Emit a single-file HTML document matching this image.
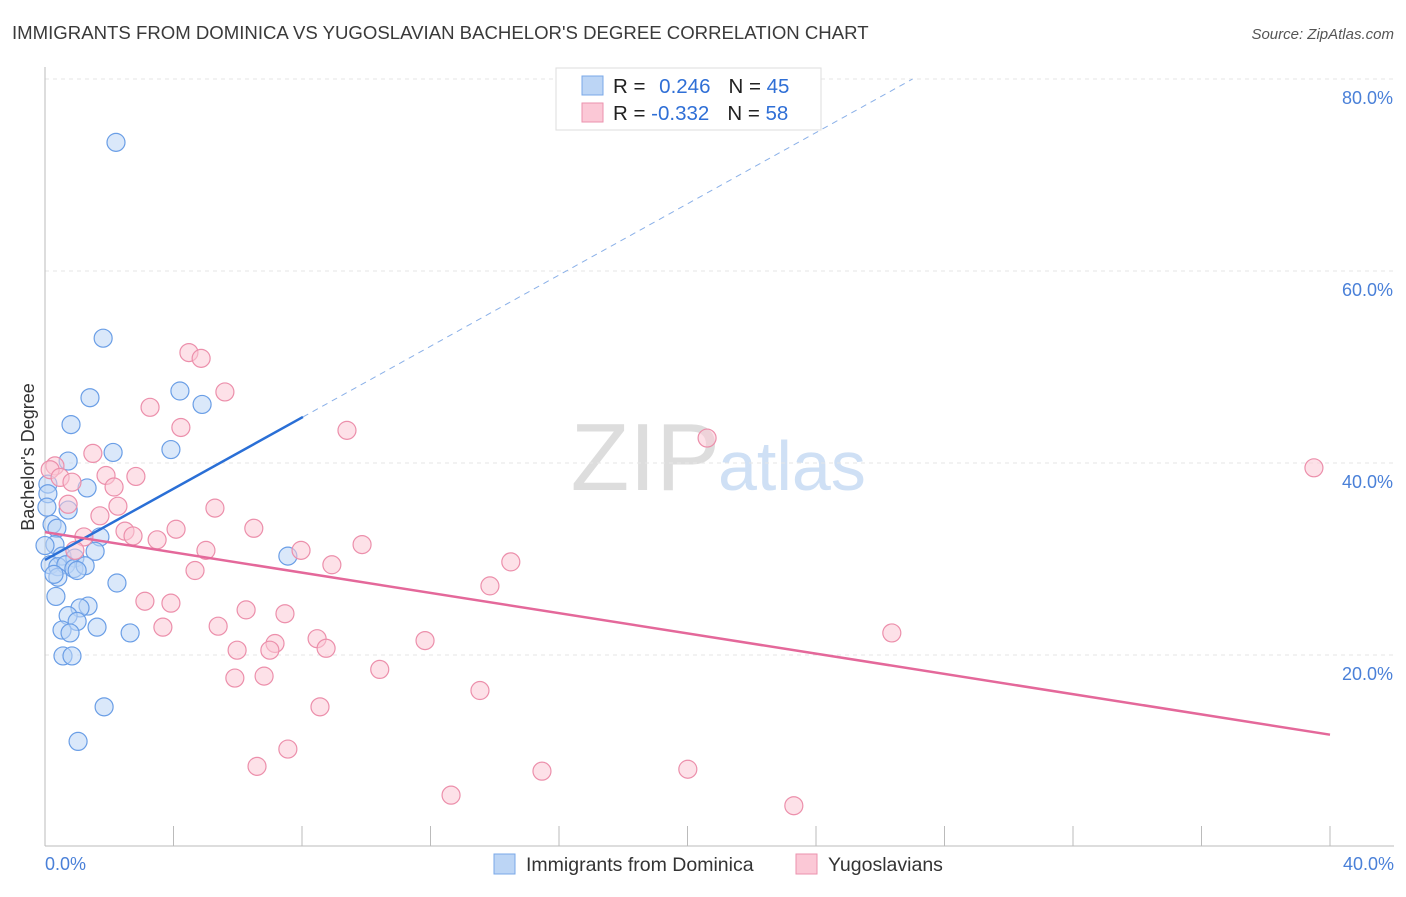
<!DOCTYPE html>
<html><head><meta charset="utf-8"><style>
body{margin:0;background:#fff;font-family:"Liberation Sans",sans-serif}
svg text{font-family:"Liberation Sans",sans-serif}
</style></head><body>
<svg id="c" width="1406" height="892">
<text x="12" y="39" font-size="18.6" fill="#3a3a3a">IMMIGRANTS FROM DOMINICA VS YUGOSLAVIAN BACHELOR'S DEGREE CORRELATION CHART</text>
<text x="1394" y="39" font-size="15" fill="#555" font-style="italic" text-anchor="end">Source: ZipAtlas.com</text>
<text x="720" y="490" font-size="96" fill="#ddd" font-family="Liberation Serif" text-anchor="end">ZIP</text>
<text x="718" y="490" font-size="70" fill="#cfe0f5">atlas</text>
<g id="grid"></g><g id="pts"></g><g id="lines"></g>
<text transform="translate(34,457) rotate(-90)" font-size="18" fill="#333" text-anchor="middle">Bachelor's Degree</text>
<g>
<rect x="556" y="68" width="265" height="62" fill="#fff" stroke="#ddd"/>
<rect x="582" y="76" width="21" height="19" fill="#bcd5f5" stroke="#7aa8e8"/>
<rect x="582" y="103" width="21" height="19" fill="#fbc8d6" stroke="#eb92ae"/>
<text x="613" y="93" font-size="20.5" fill="#222">R = <tspan fill="#2f6fd6" dx="8">0.246</tspan><tspan dx="18" fill="#222">N = </tspan><tspan fill="#2f6fd6">45</tspan></text>
<text x="613" y="120" font-size="20.5" fill="#222">R = <tspan fill="#2f6fd6">-0.332</tspan><tspan dx="18" fill="#222">N = </tspan><tspan fill="#2f6fd6">58</tspan></text>
</g>
<g>
<rect x="494" y="854" width="21" height="20" fill="#bcd5f5" stroke="#7aa8e8"/>
<text x="526" y="871" font-size="19.5" fill="#333">Immigrants from Dominica</text>
<rect x="796" y="854" width="21" height="20" fill="#fbc8d6" stroke="#eb92ae"/>
<text x="828" y="871" font-size="19.5" fill="#333">Yugoslavians</text>
</g>
</svg>
<script>
const yTicks=[20,40,60,80];
const xTickLabels=["0.0%","40.0%"];
const blueX=[2.21,1.81,4.20,1.40,4.89,0.81,2.12,3.92,0.72,1.31,0.09,0.09,0.06,0.72,0.22,0.37,1.71,0.31,1.56,0.53,0.93,0.16,0.40,0.65,0.90,1.25,1.00,0.40,7.56,2.24,0.34,1.34,1.09,0.72,1.00,0.53,0.78,1.62,2.65,0.56,0.84,1.84,1.03,0.0,0.28];
const blueY=[73.4,53.0,47.5,46.8,46.1,44.0,41.1,41.4,40.2,37.4,37.8,36.8,35.4,35.1,33.6,33.2,32.3,31.5,30.8,30.3,30.1,29.4,29.2,29.4,29.0,29.3,28.8,28.1,30.3,27.5,26.1,25.1,24.9,24.1,23.5,22.6,22.3,22.9,22.3,19.9,19.9,14.6,11.0,31.4,28.4];
const pinkX=[4.48,4.86,5.60,3.27,4.23,9.40,20.61,39.50,1.49,0.31,0.16,0.47,0.84,1.90,2.15,2.83,0.72,2.27,5.29,1.71,4.08,6.50,2.49,2.74,3.49,5.01,9.87,7.97,1.21,0.93,14.50,8.93,4.67,13.85,3.11,3.92,6.26,7.47,3.67,5.39,26.36,7.16,8.47,11.83,7.00,8.75,5.98,10.42,5.91,6.82,13.54,8.56,7.56,6.60,15.47,20.01,12.64,23.31];
const pinkY=[51.5,50.9,47.4,45.8,43.7,43.4,42.6,39.5,41.0,39.7,39.3,38.5,38.0,38.7,37.5,38.6,35.7,35.5,35.3,34.5,33.1,33.2,32.9,32.4,32.0,30.9,31.5,30.9,32.3,30.9,29.7,29.4,28.8,27.2,25.6,25.4,24.7,24.3,22.9,23.0,22.3,21.2,21.7,21.5,20.5,20.7,20.5,18.5,17.6,17.8,16.3,14.6,10.2,8.4,7.9,8.1,5.4,4.3];
const blueFit=[29.9,1.855]; const pinkFit=[32.8,-0.5275];
const X=v=>45+v/40*1285, Y=v=>847-v*9.6;
const ns="http://www.w3.org/2000/svg";
function mk(tag,attrs,parent){const e=document.createElementNS(ns,tag);for(const k in attrs)e.setAttribute(k,attrs[k]);parent.appendChild(e);return e;}
const g=document.getElementById('grid');
yTicks.forEach(t=>{
 const l=mk('line',{x1:45,x2:1394,y1:Y(t),y2:Y(t),stroke:'#e6e6e6','stroke-dasharray':'4,4'},g);
 
 
 const tx=mk('text',{x:1393,y:Y(t)+25,'font-size':18,fill:'#4a80d8','text-anchor':'end'},g);
 tx.textContent=t.toFixed(1)+'%';
 
 
});
const ax=mk('line',{x1:45,x2:45,y1:67,y2:846,stroke:'#bbb'},g);


const bx=mk('line',{x1:45,x2:1394,y1:846,y2:846,stroke:'#bbb'},g);


for(let i=1;i<=10;i++){const t=mk('line',{x1:X(i*4),x2:X(i*4),y1:826,y2:846,stroke:'#bbb'},g);
 
 }
[[0,'start',45],[40,'end',1394]].forEach((d,i)=>{const t=mk('text',{x:d[2],y:870,'font-size':18,fill:'#4a80d8','text-anchor':d[1]},g);t.textContent=xTickLabels[i];
 
 });
const p=document.getElementById('pts');
function dots(xs,ys,fill,stroke,name){xs.forEach((x,i)=>{const c=mk('circle',{cx:X(x),cy:Y(ys[i]),r:9,fill:fill,'fill-opacity':0.55,stroke:stroke,'stroke-width':1.2},p);
 
 });}
dots(blueX,blueY,'#bcd5f5','#6a9ee6','dominica-point');
dots(pinkX,pinkY,'#fbc8d6','#ec8fab','yugoslavian-point');
const L=document.getElementById('lines');
const xEnd=(80-blueFit[0])/blueFit[1];
let a=mk('line',{x1:X(0),y1:Y(blueFit[0]),x2:X(8.03),y2:Y(blueFit[0]+blueFit[1]*8.03),stroke:'#2a6fd6','stroke-width':2.5},L);


a=mk('line',{x1:X(8.03),y1:Y(blueFit[0]+blueFit[1]*8.03),x2:X(xEnd),y2:Y(80),stroke:'#8ab0e8','stroke-width':1,'stroke-dasharray':'6,5'},L);


a=mk('line',{x1:X(0),y1:Y(pinkFit[0]),x2:X(40),y2:Y(pinkFit[0]+pinkFit[1]*40),stroke:'#e4689a','stroke-width':2.5},L);


</script>
</body></html>
